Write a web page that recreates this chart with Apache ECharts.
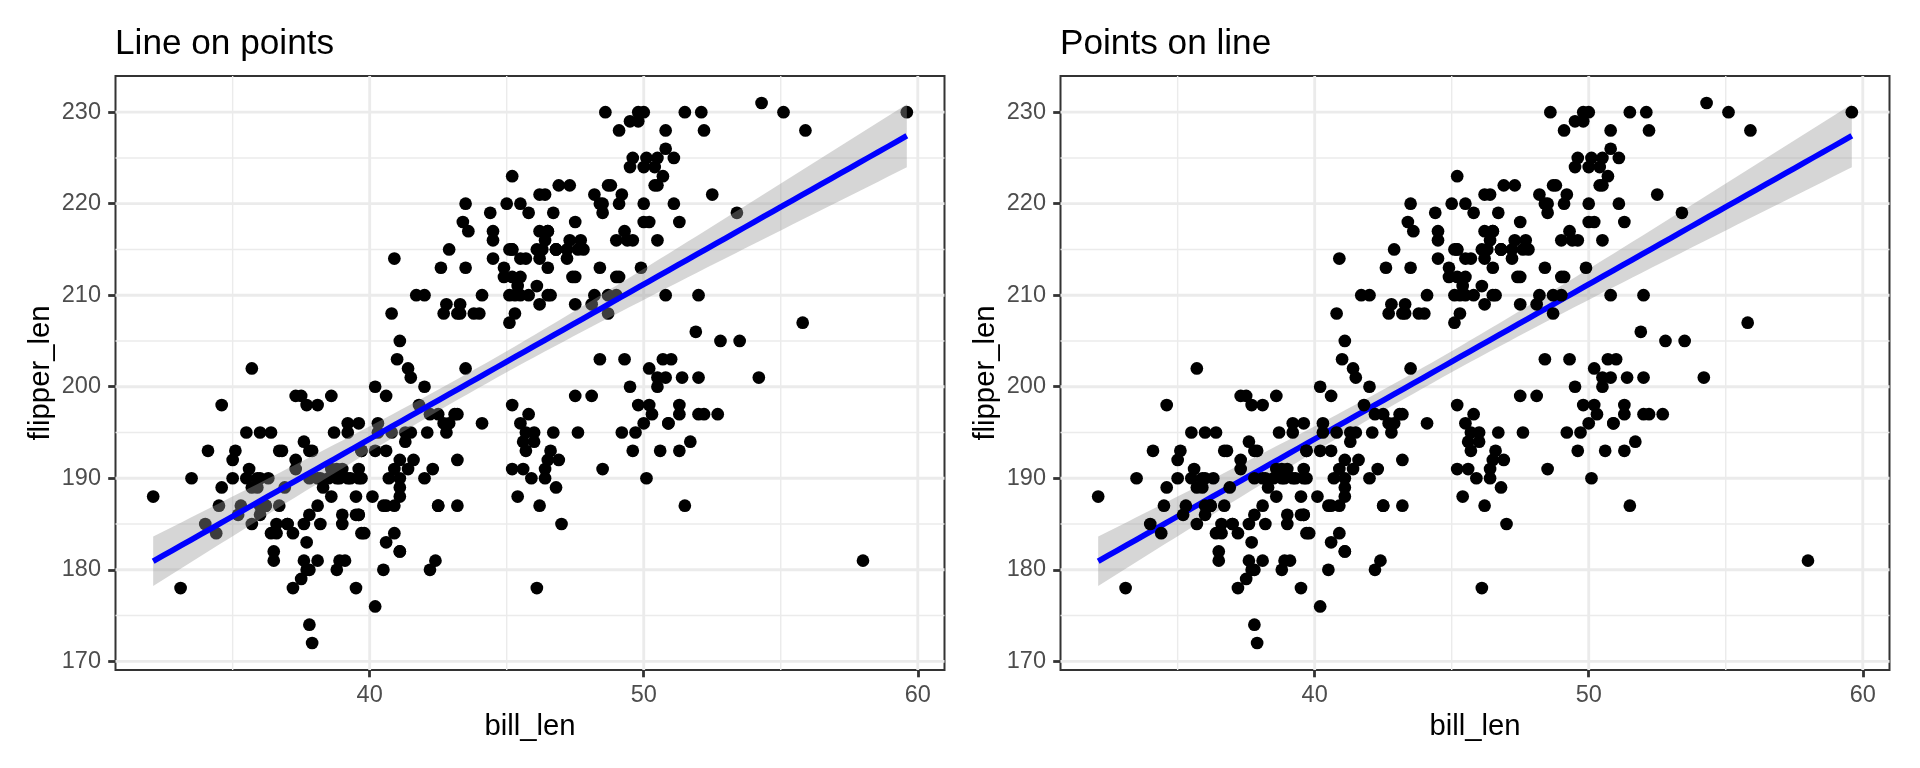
<!DOCTYPE html>
<html>
<head>
<meta charset="utf-8">
<script src="https://cdn.jsdelivr.net/npm/echarts@6/dist/echarts.min.js"></script>
<style>
  html, body { margin: 0; padding: 0; background: #ffffff; }
  #chart { width: 1920px; height: 768px; }
</style>
</head>
<body>
<div id="chart"></div>
<script>
// ---- data (bill length, flipper length) ----
const billAdelie = [39.1,39.5,40.3,36.7,39.3,38.9,39.2,34.1,42.0,37.8,37.8,41.1,38.6,34.6,36.6,38.7,42.5,34.4,46.0,37.8,37.7,35.9,38.2,38.8,35.3,40.6,40.5,37.9,40.5,39.5,37.2,39.5,40.9,36.4,39.2,38.8,42.2,37.6,39.8,36.5,40.8,36.0,44.1,37.0,39.6,41.1,37.5,36.0,42.3,39.6,40.1,35.0,42.0,34.5,41.4,39.0,40.6,36.5,37.6,35.7,41.3,37.6,41.1,36.4,41.6,35.5,41.1,35.9,41.8,33.5,39.7,39.6,45.8,35.5,42.8,40.9,37.2,36.2,42.1,34.6,42.9,36.7,35.1,37.3,41.3,36.3,36.9,38.3,38.9,35.7,41.1,34.0,39.6,36.2,40.8,38.1,40.3,33.1,43.2,35.0,41.0,37.7,37.8,37.9,39.7,38.6,38.2,38.1,43.2,38.1,45.6,39.7,42.2,39.6,42.7,38.6,37.3,35.7,41.1,36.2,37.7,40.2,41.4,35.2,40.6,38.8,41.5,39.0,44.1,38.5,43.1,36.8,37.5,38.1,41.1,35.6,40.2,37.0,39.7,40.2,40.6,32.1,40.7,37.3,39.0,39.2,36.6,36.0,37.8,36.0,41.5];
const flipperAdelie = [181,186,195,193,190,181,195,193,190,186,180,182,191,198,185,195,197,184,194,174,180,189,185,180,187,183,187,172,180,178,178,188,184,195,196,190,180,181,184,182,195,186,196,185,190,182,179,190,191,186,188,190,200,187,191,186,193,181,194,185,195,185,192,184,192,195,188,190,198,190,190,196,197,190,195,191,184,187,195,189,196,187,193,191,194,190,189,189,190,202,205,185,186,187,208,190,196,178,192,192,203,183,190,193,184,199,190,181,197,198,191,193,197,191,196,188,199,189,189,187,198,176,202,186,199,191,195,191,210,190,197,193,199,187,190,191,200,185,193,193,187,188,190,192,185,190,184,195,193,187,201];
const billGentoo = [46.1,50.0,48.7,50.0,47.6,46.5,45.4,46.7,43.3,46.8,40.9,49.0,45.5,48.4,45.8,49.3,42.0,49.2,46.2,48.7,50.2,45.1,46.5,46.3,42.9,46.1,44.5,47.8,48.2,50.0,47.3,42.8,45.1,59.6,49.1,48.4,42.6,44.4,44.0,48.7,42.7,49.6,45.3,49.6,50.5,43.6,45.5,50.5,44.9,45.2,46.6,48.5,45.1,50.1,46.5,45.0,43.8,45.5,43.2,50.4,45.3,46.2,45.7,54.3,45.8,49.8,46.2,49.5,43.5,50.7,47.7,46.4,48.2,46.5,46.4,48.6,47.5,51.1,45.2,45.2,49.1,52.5,47.4,50.0,44.9,50.8,43.4,51.3,47.5,52.1,47.5,52.2,45.5,49.5,44.5,50.8,49.4,46.9,48.4,51.1,48.5,55.9,47.2,49.1,47.3,46.8,41.7,53.4,43.3,48.1,50.5,49.8,43.5,51.5,46.2,55.1,44.5,48.8,47.2,46.8,50.4,45.2,49.9];
const flipperGentoo = [211,230,210,218,215,210,211,219,209,215,214,216,214,213,210,217,210,221,209,222,218,215,213,215,215,215,216,215,210,220,222,209,207,230,220,220,213,219,208,208,208,225,210,216,222,217,210,225,213,215,210,220,210,225,217,220,208,220,208,224,208,221,214,231,219,230,214,229,220,223,216,221,221,217,216,230,209,220,215,223,212,221,212,224,212,228,218,218,212,230,218,228,212,224,214,226,216,222,203,225,219,228,215,228,216,215,210,219,208,209,216,229,213,230,217,230,217,222,214,215,222,212,213];
const billChinstrap = [46.5,50.0,51.3,45.4,52.7,45.2,46.1,51.3,46.0,51.3,46.6,51.7,47.0,52.0,45.9,50.5,50.3,58.0,46.4,49.2,42.4,48.5,43.2,50.6,46.7,52.0,50.5,49.5,46.4,52.8,40.9,54.2,42.5,51.0,49.7,47.5,47.6,52.0,46.9,53.5,49.0,46.2,50.9,45.5,50.9,50.8,50.1,49.0,51.5,49.8,48.1,51.4,45.7,50.7,42.5,52.2,45.2,49.3,50.2,45.6,51.9,46.8,45.7,55.8,43.5,49.6,50.8,50.2];
const flipperChinstrap = [192,196,193,188,197,198,178,197,195,198,193,194,185,201,190,201,197,181,190,195,181,191,187,193,195,197,200,200,191,205,187,201,187,203,195,199,195,210,192,205,210,187,196,196,196,201,190,212,187,198,199,201,193,203,187,197,191,203,202,194,206,189,195,207,202,193,210,198];

// ---- axes / ticks ----
const xRange = [30.725, 60.975];
const yRange = [169.05, 233.95];
const xTicks = [40, 50, 60];
const xMinor = [35, 45, 55];
const yTicks = [170, 180, 190, 200, 210, 220, 230];
const yMinor = [175, 185, 195, 205, 215, 225];
const titles = ['Line on points', 'Points on line'];
const xName = 'bill_len';
const yName = 'flipper_len';

// ---- derived: points & linear fit with 95% CI (as geom_smooth(method = "lm")) ----
const bill = billAdelie.concat(billGentoo, billChinstrap);
const flipper = flipperAdelie.concat(flipperGentoo, flipperChinstrap);
const points = bill.map((b, i) => [b, flipper[i]]);
const n = bill.length;
const xbar = bill.reduce((a, b) => a + b, 0) / n;
const ybar = flipper.reduce((a, b) => a + b, 0) / n;
let sxx = 0, sxy = 0;
for (let i = 0; i < n; i++) { sxx += (bill[i] - xbar) ** 2; sxy += (bill[i] - xbar) * (flipper[i] - ybar); }
const slope = sxy / sxx, intercept = ybar - slope * xbar;
let sse = 0;
for (let i = 0; i < n; i++) { sse += (flipper[i] - intercept - slope * bill[i]) ** 2; }
const sres = Math.sqrt(sse / (n - 2));
const tCrit = 1.967; // qt(0.975, n - 2)
const bx0 = Math.min(...bill), bx1 = Math.max(...bill);
const fit = [], band = [];
for (let i = 0; i < 80; i++) {
  const x = bx0 + (bx1 - bx0) * i / 79;
  const y = intercept + slope * x;
  const se = sres * Math.sqrt(1 / n + (x - xbar) ** 2 / sxx);
  fit.push([x, y]);
  band.push([x, y - tCrit * se, y + tCrit * se]);
}
const gridLines = [];
xTicks.forEach(v => gridLines.push([v, 0, 1]));
xMinor.forEach(v => gridLines.push([v, 0, 0]));
yTicks.forEach(v => gridLines.push([v, 1, 1]));
yMinor.forEach(v => gridLines.push([v, 1, 0]));

// ---- rendering ----
const FONT = "'Liberation Sans', Arial, Helvetica, sans-serif";
const chart = echarts.init(document.getElementById('chart'), null, { renderer: 'canvas' });

function renderGrid(params, api) {
  const v = api.value(0), orient = api.value(1), major = api.value(2);
  const cs = params.coordSys;
  let shape;
  if (orient === 0) {
    const px = api.coord([v, 200])[0];
    shape = { x1: px, y1: cs.y, x2: px, y2: cs.y + cs.height };
  } else {
    const py = api.coord([45, v])[1];
    shape = { x1: cs.x, y1: py, x2: cs.x + cs.width, y2: py };
  }
  return { type: 'line', shape: shape, style: { stroke: '#EBEBEB', lineWidth: major ? 2.85 : 1.42 } };
}
function renderBand(params, api) {
  if (params.dataIndex !== 0) return null;
  const upper = band.map(d => api.coord([d[0], d[2]]));
  const lower = band.slice().reverse().map(d => api.coord([d[0], d[1]]));
  return { type: 'polygon', shape: { points: upper.concat(lower) }, style: { fill: 'rgba(153,153,153,0.4)' } };
}

const grids = [
  { left: 115.5, top: 76, width: 829, height: 594 },
  { left: 1060.5, top: 76, width: 829, height: 594 }
];

function xAxis(gi) {
  return {
    type: 'value', gridIndex: gi, min: xRange[0], max: xRange[1],
    name: xName, nameLocation: 'middle', nameGap: 41.5,
    nameTextStyle: { fontFamily: FONT, fontSize: 29.3, color: '#000000', lineHeight: 29.3 },
    axisLine: { show: false, onZero: false },
    axisTick: { show: true, customValues: xTicks, length: 7.3, lineStyle: { color: '#333333', width: 2.8 } },
    axisLabel: { customValues: xTicks, margin: 14, fontFamily: FONT, fontSize: 23.5, color: '#4D4D4D', lineHeight: 23.5 },
    splitLine: { show: false }
  };
}
function yAxis(gi) {
  return {
    type: 'value', gridIndex: gi, min: yRange[0], max: yRange[1],
    name: yName, nameLocation: 'middle', nameGap: 60,
    nameTextStyle: { fontFamily: FONT, fontSize: 29.3, color: '#000000', lineHeight: 29.3 },
    axisLine: { show: false, onZero: false },
    axisTick: { show: true, customValues: yTicks, length: 7.3, lineStyle: { color: '#333333', width: 2.8 } },
    axisLabel: { customValues: yTicks, margin: 14.5, fontFamily: FONT, fontSize: 23.5, color: '#4D4D4D', lineHeight: 23.5 },
    splitLine: { show: false }
  };
}

function panelSeries(gi, pointsOnTop) {
  const zPts = pointsOnTop ? 5 : 2;
  const zBand = pointsOnTop ? 2 : 3;
  const zLine = pointsOnTop ? 3 : 4;
  return [
    { type: 'custom', xAxisIndex: gi, yAxisIndex: gi, data: gridLines, renderItem: renderGrid, silent: true, z: 1 },
    { type: 'scatter', xAxisIndex: gi, yAxisIndex: gi, data: points, symbol: 'circle', symbolSize: 12.7,
      itemStyle: { color: '#000000', opacity: 1 }, emphasis: { disabled: true }, silent: true, z: zPts },
    { type: 'custom', xAxisIndex: gi, yAxisIndex: gi, data: band, renderItem: renderBand, silent: true, z: zBand },
    { type: 'line', xAxisIndex: gi, yAxisIndex: gi, data: fit, showSymbol: false, symbol: 'none',
      lineStyle: { color: '#0000FF', width: 5.7 }, silent: true, z: zLine }
  ];
}

chart.setOption({
  animation: false,
  backgroundColor: '#ffffff',
  title: [
    { text: titles[0], left: 115, top: 27, padding: 0,
      textStyle: { fontFamily: FONT, fontSize: 35.2, fontWeight: 'normal', color: '#000000', lineHeight: 35.2 } },
    { text: titles[1], left: 1060, top: 27, padding: 0,
      textStyle: { fontFamily: FONT, fontSize: 35.2, fontWeight: 'normal', color: '#000000', lineHeight: 35.2 } }
  ],
  grid: grids.map(g => Object.assign({ show: true, borderColor: '#333333', borderWidth: 2, backgroundColor: '#ffffff' }, g)),
  xAxis: [xAxis(0), xAxis(1)],
  yAxis: [yAxis(0), yAxis(1)],
  series: panelSeries(0, false).concat(panelSeries(1, true))
});
</script>
</body>
</html>
